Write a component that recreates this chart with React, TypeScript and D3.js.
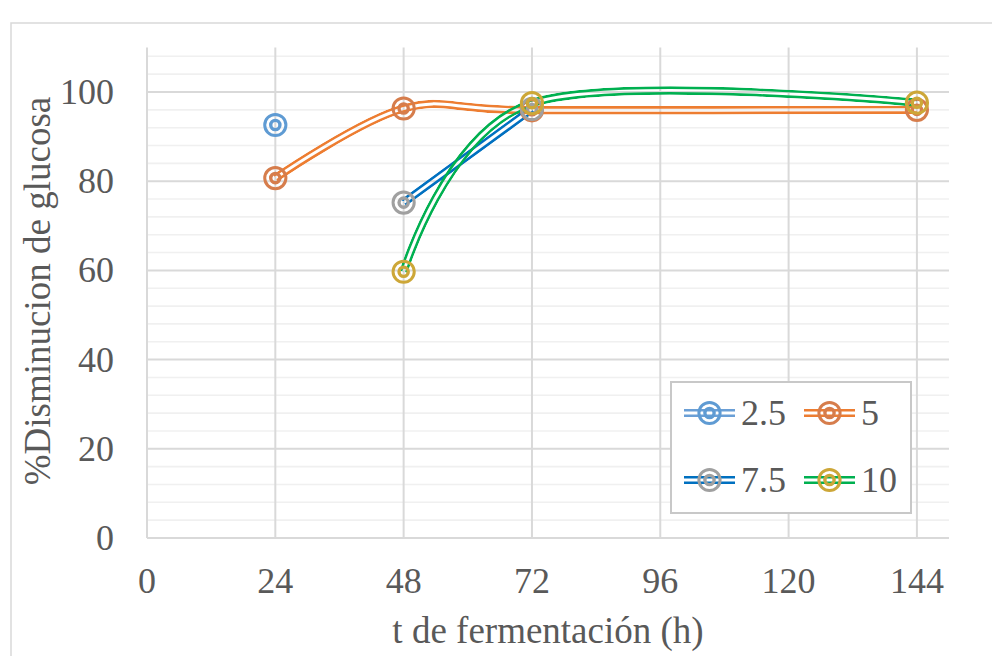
import React, { useEffect, useRef } from "react";
import * as d3 from "d3";

// data
const seriesNames = ["2.5", "5", "7.5", "10"];
const hours25 = [24];
const glucose25 = [92.6];
const hours5 = [24, 48, 72, 144];
const glucose5 = [80.7, 96.3, 95.9, 96.0];
const hours75 = [48, 72];
const glucose75 = [75.2, 96.2];
const hours10 = [48, 72, 144];
const glucose10 = [59.7, 97.5, 97.6];

const xTicks = [0, 24, 48, 72, 96, 120, 144];
const yTicks = [0, 20, 40, 60, 80, 100];

const lineColors = ["#6A9FD6", "#ED7D31", "#0070C0", "#00B050"];
const markerColors = ["#5F9BD3", "#D67D4C", "#A0A0A0", "#CDA738"];

const W = 992;
const H = 656;
const textColor = "#595959";
const font = "'Liberation Serif', 'Times New Roman', serif";

const App: React.FC = () => {
	const ref = useRef<SVGSVGElement>(null);

	useEffect(() => {
		const svg = d3.select(ref.current);
		svg.selectAll("*").remove();

		const x = d3.scaleLinear().domain([0, 150]).range([147, 949]);
		const y = d3.scaleLinear().domain([0, 110]).range([538, 47.4]);

		// chart area border
		svg.append("rect")
			.attr("x", 11).attr("y", 23).attr("width", 1000).attr("height", 700)
			.attr("fill", "#fff").attr("stroke", "#D9D9D9").attr("stroke-width", 1.5);

		// minor horizontal gridlines
		const minor = d3.range(4, 110, 4).filter((v) => v % 20 !== 0);
		svg.append("g").selectAll("line").data(minor).enter().append("line")
			.attr("x1", x(0)).attr("x2", x(150))
			.attr("y1", (d) => y(d)).attr("y2", (d) => y(d))
			.attr("stroke", "#F0F0F0").attr("stroke-width", 1.6);

		// major gridlines
		svg.append("g").selectAll("line").data(yTicks).enter().append("line")
			.attr("x1", x(0)).attr("x2", x(150))
			.attr("y1", (d) => y(d)).attr("y2", (d) => y(d))
			.attr("stroke", "#D9D9D9").attr("stroke-width", 2);
		svg.append("g").selectAll("line").data(xTicks).enter().append("line")
			.attr("x1", (d) => x(d)).attr("x2", (d) => x(d))
			.attr("y1", y(110)).attr("y2", y(0))
			.attr("stroke", "#D9D9D9").attr("stroke-width", 2);

		// tick labels
		svg.append("g").selectAll("text").data(yTicks).enter().append("text")
			.attr("x", 114).attr("y", (d) => y(d) + 12)
			.attr("text-anchor", "end")
			.attr("font-family", font).attr("font-size", 36).attr("fill", textColor)
			.text((d) => d);
		svg.append("g").selectAll("text").data(xTicks).enter().append("text")
			.attr("x", (d) => x(d)).attr("y", 593)
			.attr("text-anchor", "middle")
			.attr("font-family", font).attr("font-size", 36).attr("fill", textColor)
			.text((d) => d);

		// axis titles
		svg.append("text")
			.attr("x", 548).attr("y", 643)
			.attr("text-anchor", "middle")
			.attr("font-family", font).attr("font-size", 37).attr("fill", textColor)
			.text("t de fermentación (h)");
		svg.append("text")
			.attr("transform", "translate(50, 291) rotate(-90)")
			.attr("text-anchor", "middle")
			.attr("font-family", font).attr("font-size", 37).attr("fill", textColor)
			.text("%Disminucion de glucosa");

		const series = [
			{ xs: hours25, ys: glucose25 },
			{ xs: hours5, ys: glucose5 },
			{ xs: hours75, ys: glucose75 },
			{ xs: hours10, ys: glucose10 },
		];

		const line = d3.line<[number, number]>()
			.x((d) => x(d[0]))
			.y((d) => y(d[1]))
			.curve(d3.curveCardinal.tension(0));

		const defs = svg.append("defs");
		const lg = svg.append("g");

		// double (compound) lines
		series.forEach((s, i) => {
			if (s.xs.length < 2) return;
			const pts = s.xs.map((h, k) => [h, s.ys[k]] as [number, number]);
			const d = line(pts) as string;
			const m = defs.append("mask")
				.attr("id", `dbl${i}`)
				.attr("maskUnits", "userSpaceOnUse")
				.attr("x", 0).attr("y", 0).attr("width", W).attr("height", H);
			m.append("path").attr("d", d).attr("fill", "none").attr("stroke", "#fff").attr("stroke-width", 8.4);
			m.append("path").attr("d", d).attr("fill", "none").attr("stroke", "#000").attr("stroke-width", 3);
			lg.append("path")
				.attr("d", d).attr("fill", "none")
				.attr("stroke", lineColors[i]).attr("stroke-width", 8.4)
				.attr("mask", `url(#dbl${i})`);
		});

		const marker = (g: d3.Selection<SVGGElement, unknown, null, undefined>, cx: number, cy: number, c: string) => {
			g.append("circle").attr("cx", cx).attr("cy", cy).attr("r", 10.6)
				.attr("fill", "none").attr("stroke", c).attr("stroke-width", 3);
			g.append("circle").attr("cx", cx).attr("cy", cy).attr("r", 4.6)
				.attr("fill", "none").attr("stroke", c).attr("stroke-width", 3.4);
		};

		const mg = svg.append("g");
		series.forEach((s, i) => {
			s.xs.forEach((h, k) => marker(mg, x(h), y(s.ys[k]), markerColors[i]));
		});

		// legend
		const leg = svg.append("g");
		leg.append("rect")
			.attr("x", 671).attr("y", 382).attr("width", 240).attr("height", 131)
			.attr("fill", "#fff").attr("stroke", "#C8C8C8").attr("stroke-width", 2);
		const legPos = [
			{ lx: 684, ty: 413 },
			{ lx: 804, ty: 413 },
			{ lx: 684, ty: 480 },
			{ lx: 804, ty: 480 },
		];
		seriesNames.forEach((name, i) => {
			const p = legPos[i];
			[-2.8, 2.8].forEach((off) => {
				leg.append("line")
					.attr("x1", p.lx).attr("x2", p.lx + 51)
					.attr("y1", p.ty + off).attr("y2", p.ty + off)
					.attr("stroke", lineColors[i]).attr("stroke-width", 2.6);
			});
			marker(leg, p.lx + 25.5, p.ty, markerColors[i]);
			leg.append("text")
				.attr("x", p.lx + 57).attr("y", p.ty + 12)
				.attr("font-family", font).attr("font-size", 36).attr("fill", textColor)
				.text(name);
		});
	}, []);

	return (
		<svg
			ref={ref}
			width={W}
			height={H}
			style={{ position: "absolute", left: 0, top: 0, background: "#fff" }}
		/>
	);
};

export default App;
